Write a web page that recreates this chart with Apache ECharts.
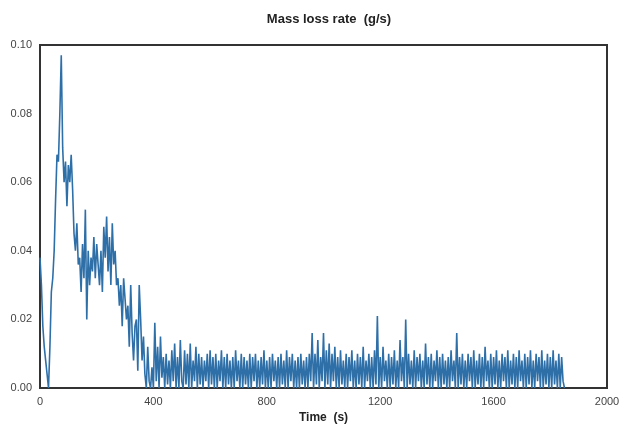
<!DOCTYPE html>
<html><head><meta charset="utf-8">
<script src="https://cdn.jsdelivr.net/npm/echarts@6/dist/echarts.min.js"></script>
<style>html,body{margin:0;padding:0;background:#fff}#c{width:625px;height:441px}</style>
</head><body><div id="c"></div>
<script>
const timeStep = 5;
const rateEarly = [0.038,0.03,0.018,0.012,0.008,0.004,0.0,0.012,0.028,0.032,0.04,0.055,0.068,0.066,0.08,0.097,0.07,0.06,0.066,0.053,
0.065,0.06,0.068,0.058,0.045,0.04,0.048,0.036,0.038,0.028,0.042,0.032,0.052,0.02,0.04,0.03,0.038,0.034,0.044,0.032,
0.042,0.036,0.03,0.04,0.028,0.047,0.038,0.05,0.034,0.044,0.03,0.048,0.036,0.04,0.03,0.032,0.024,0.03,0.018,0.032,
0.026,0.02,0.024,0.012,0.03,0.016,0.008,0.018,0.02,0.005,0.03,0.02,0.008,0.015,0.004,0.0,0.012,0.002,0.0,0.006,0.0];
const rateLate = [
0.019,0.002,0.012,0.0,0.015,0.003,0.009,0.0,0.01,0.001,
0.008,0.0,0.011,0.002,0.013,0.0,0.009,0.0,0.014,0.002,
0.0,0.011,0.001,0.01,0.0,0.013,0.0,0.008,0.002,0.012,
0.0,0.01,0.001,0.009,0.0,0.008,0.002,0.01,0.0,0.011,
0.001,0.009,0.0,0.01,0.0,0.008,0.002,0.011,0.0,0.009,
0.0,0.01,0.001,0.008,0.0,0.009,0.0,0.011,0.002,0.008,
0.0,0.01,0.0,0.009,0.001,0.008,0.0,0.01,0.0,0.009,
0.002,0.01,0.0,0.008,0.0,0.009,0.001,0.011,0.0,0.008,
0.0,0.009,0.0,0.01,0.002,0.008,0.0,0.009,0.0,0.01,
0.001,0.008,0.0,0.011,0.0,0.009,0.002,0.01,0.0,0.008,
0.0,0.009,0.0,0.01,0.001,0.008,0.0,0.009,0.0,0.01,
0.002,0.016,0.0,0.01,0.001,0.014,0.0,0.009,0.002,0.016,
0.0,0.011,0.001,0.013,0.0,0.01,0.002,0.012,0.0,0.009,
0.0,0.011,0.001,0.008,0.0,0.01,0.0,0.009,0.002,0.011,
0.0,0.008,0.0,0.01,0.001,0.009,0.0,0.012,0.0,0.008,
0.002,0.01,0.0,0.009,0.0,0.011,0.001,0.021,0.0,0.009,
0.0,0.012,0.002,0.008,0.0,0.01,0.0,0.009,0.001,0.011,
0.0,0.008,0.0,0.014,0.002,0.009,0.0,0.02,0.0,0.01,
0.001,0.008,0.0,0.011,0.0,0.009,0.002,0.01,0.0,0.008,
0.0,0.013,0.001,0.009,0.0,0.01,0.0,0.008,0.002,0.011,
0.0,0.009,0.0,0.01,0.001,0.008,0.0,0.009,0.0,0.011,
0.002,0.008,0.0,0.016,0.0,0.009,0.001,0.01,0.0,0.008,
0.0,0.01,0.002,0.009,0.0,0.011,0.0,0.008,0.001,0.01,
0.0,0.009,0.0,0.012,0.002,0.008,0.0,0.01,0.0,0.009,
0.001,0.011,0.0,0.008,0.0,0.01,0.002,0.009,0.0,0.011,
0.0,0.008,0.001,0.01,0.0,0.009,0.0,0.011,0.002,0.008,
0.0,0.01,0.0,0.009,0.001,0.011,0.0,0.008,0.0,0.01,
0.002,0.009,0.0,0.011,0.0,0.008,0.001,0.01,0.0,0.009,
0.0,0.011,0.001,0.008,0.0,0.01,0.0,0.009,0.002,0.0];
const xTicks = [0,400,800,1200,1600,2000];
const yTicks = [0,0.02,0.04,0.06,0.08,0.10];
const rates = rateEarly.concat(rateLate);
const data = rates.map((v,i)=>[i*timeStep, v]);
const ch = echarts.init(document.getElementById('c'));
ch.setOption({
  animation:false,
  title:{text:'Mass loss rate  (g/s)',left:324,top:8,textAlign:'center',textStyle:{fontSize:13,fontWeight:'bold',color:'#222',fontFamily:'Liberation Sans'}},
  grid:{left:40,right:18,top:45,bottom:53},
  xAxis:{type:'value',min:0,max:2000,interval:400,name:'Time  (s)',nameLocation:'middle',nameGap:22,
    nameTextStyle:{fontSize:12,fontWeight:'bold',color:'#222'},
    axisLine:{lineStyle:{color:'#333',width:2}},axisTick:{show:false},splitLine:{show:false},
    axisLabel:{color:'#444',fontSize:11,formatter:v=>String(v)}},
  yAxis:{type:'value',min:0,max:0.1,interval:0.02,
    axisLine:{show:true,lineStyle:{color:'#333',width:2}},axisTick:{show:false},splitLine:{show:false},
    axisLabel:{color:'#444',fontSize:11,formatter:v=>v.toFixed(2)}},
  series:[{type:'line',data:data,showSymbol:false,lineStyle:{color:'#2e6fa8',width:1.6}}],
  graphic:[{type:'rect',shape:{x:40,y:45,width:567,height:343},style:{fill:'none',stroke:'#333',lineWidth:2},silent:true,z:-1}]
});
</script></body></html>
